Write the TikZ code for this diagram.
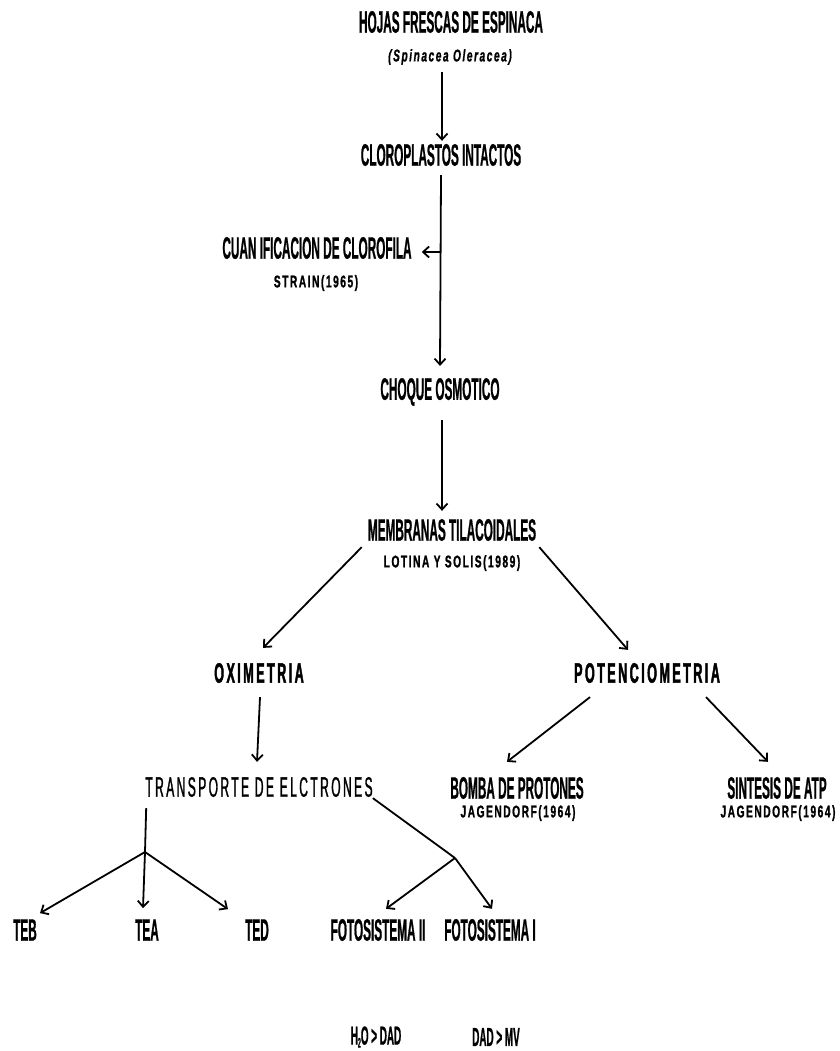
\documentclass[tikz,border=0pt]{standalone}
\usepackage{fontspec}
\usetikzlibrary{arrows.meta}
\newfontfamily\condf[FakeStretch=0.38,FakeBold=0.6]{Liberation Sans}
\newfontfamily\refbf[FakeStretch=0.6,LetterSpace=9,FakeBold=1]{Liberation Sans Bold}
\newfontfamily\spbf[FakeStretch=0.45,LetterSpace=8.7,FakeBold=1.5]{Liberation Sans Bold}
\newfontfamily\spr[FakeStretch=0.43,LetterSpace=8.6,FakeBold=1]{Liberation Sans}
\newfontfamily\spit[FakeStretch=0.6,LetterSpace=9,FakeBold=0.8]{Liberation Sans}
\tikzset{
  mainlbl/.style={inner sep=0pt, font=\condf\bfseries\fontsize{31}{31}\selectfont},
  botlbl/.style={inner sep=0pt, font=\condf\bfseries\fontsize{26}{26}\selectfont},
  reflbl/.style={inner sep=0pt, font=\refbf\fontsize{17}{17}\selectfont},
  techlbl/.style={inner sep=0pt, font=\spbf\fontsize{28}{28}\selectfont},
  translbl/.style={inner sep=0pt, font=\spr\fontsize{28}{28}\selectfont},
  latinlbl/.style={inner sep=0pt, font=\spit\bfseries\itshape\fontsize{17}{17}\selectfont},
  arr/.style={-{Straight Barb[length=6pt,width=11pt,line width=1.8pt]}, line width=1.8pt},
  plain/.style={line width=1.8pt}
}
\begin{document}
\begin{tikzpicture}[x=1pt,y=-1pt]
\fill[white] (0,0) rectangle (839,1051);
\useasboundingbox (0,0) rectangle (839,1051);

\node[mainlbl] (hojas) at (451,22) {HOJAS FRESCAS DE ESPINACA};
\node[latinlbl] (sp) at (450,57) {(Spinacea Oleracea)};
\node[mainlbl] (clor) at (441,155) {CLOROPLASTOS INTACTOS};
\node[mainlbl] (cuan) at (317,248) {CUAN IFICACION DE CLOROFILA};
\node[reflbl] (strain) at (316,283) {STRAIN(1965)};
\node[mainlbl] (choque) at (440,392) {CHOQUE OSMOTICO};
\node[mainlbl] (memb) at (452,530) {MEMBRANAS TILACOIDALES};
\node[reflbl] (lotina) at (452,563) {LOTINA Y SOLIS(1989)};
\node[techlbl] (oxi) at (259,673) {OXIMETRIA};
\node[techlbl] (pot) at (647,673) {POTENCIOMETRIA};
\node[translbl] (trans) at (259,787) {TRANSPORTE DE ELCTRONES};
\node[mainlbl] (bomba) at (517,788) {BOMBA DE PROTONES};
\node[reflbl] (jag1) at (518,813) {JAGENDORF(1964)};
\node[mainlbl] (sint) at (777,788) {SINTESIS DE ATP};
\node[reflbl] (jag2) at (778,813) {JAGENDORF(1964)};
\node[mainlbl] (teb) at (25,930) {TEB};
\node[mainlbl] (tea) at (147,930) {TEA};
\node[mainlbl] (ted) at (257,930) {TED};
\node[mainlbl] (fs2) at (378,930) {FOTOSISTEMA II};
\node[mainlbl] (fs1) at (490,930) {FOTOSISTEMA I};
\node[botlbl] (h2o) at (376,1037) {H{\raisebox{-3pt}{\fontsize{14}{14}\selectfont 2}}O > DAD};
\node[botlbl] (dadmv) at (496,1037) {DAD > MV};

\coordinate (side) at (441,252);
\coordinate (b1) at (145,852);
\coordinate (b2) at (455,858);

\draw[arr] ([shift={(-8,7)}]sp.south) -- ([shift={(1,-3)}]clor.north);
\draw[arr] ([shift={(0,9)}]clor.south) -- ([shift={(0,-12)}]choque.north);
\draw[arr] (side) -- ([xshift=10pt]cuan.east |- side);
\draw[arr] ([shift={(2,14)}]choque.south) -- ([shift={(-10,-8)}]memb.north);
\draw[arr] ([shift={(-6,6)}]memb.south west) -- ([shift={(4,-15)}]oxi.north);
\draw[arr] ([shift={(3,6)}]memb.south east) -- ([shift={(-19,-13)}]pot.north);
\draw[arr] ([shift={(1,14)}]oxi.south) -- ([shift={(-2,-15)}]trans.north);
\draw[arr] ([shift={(-57,14)}]pot.south) -- ([shift={(-10,-15)}]bomba.north);
\draw[arr] ([shift={(59,14)}]pot.south) -- ([shift={(-9,-15)}]sint.north);
\draw[plain] ([shift={(1,11)}]trans.south west) -- (b1);
\draw[arr] (b1) -- ([shift={(15,-6)}]teb.north);
\draw[arr] (b1) -- ([shift={(-4,-11)}]tea.north);
\draw[arr] (b1) -- ([shift={(-29,-10)}]ted.north);
\draw[plain] ([shift={(0,1)}]trans.south east) -- (b2);
\draw[arr] (b2) -- ([shift={(8,-10)}]fs2.north);
\draw[arr] (b2) -- ([shift={(2,-10)}]fs1.north);
\end{tikzpicture}
\end{document}
